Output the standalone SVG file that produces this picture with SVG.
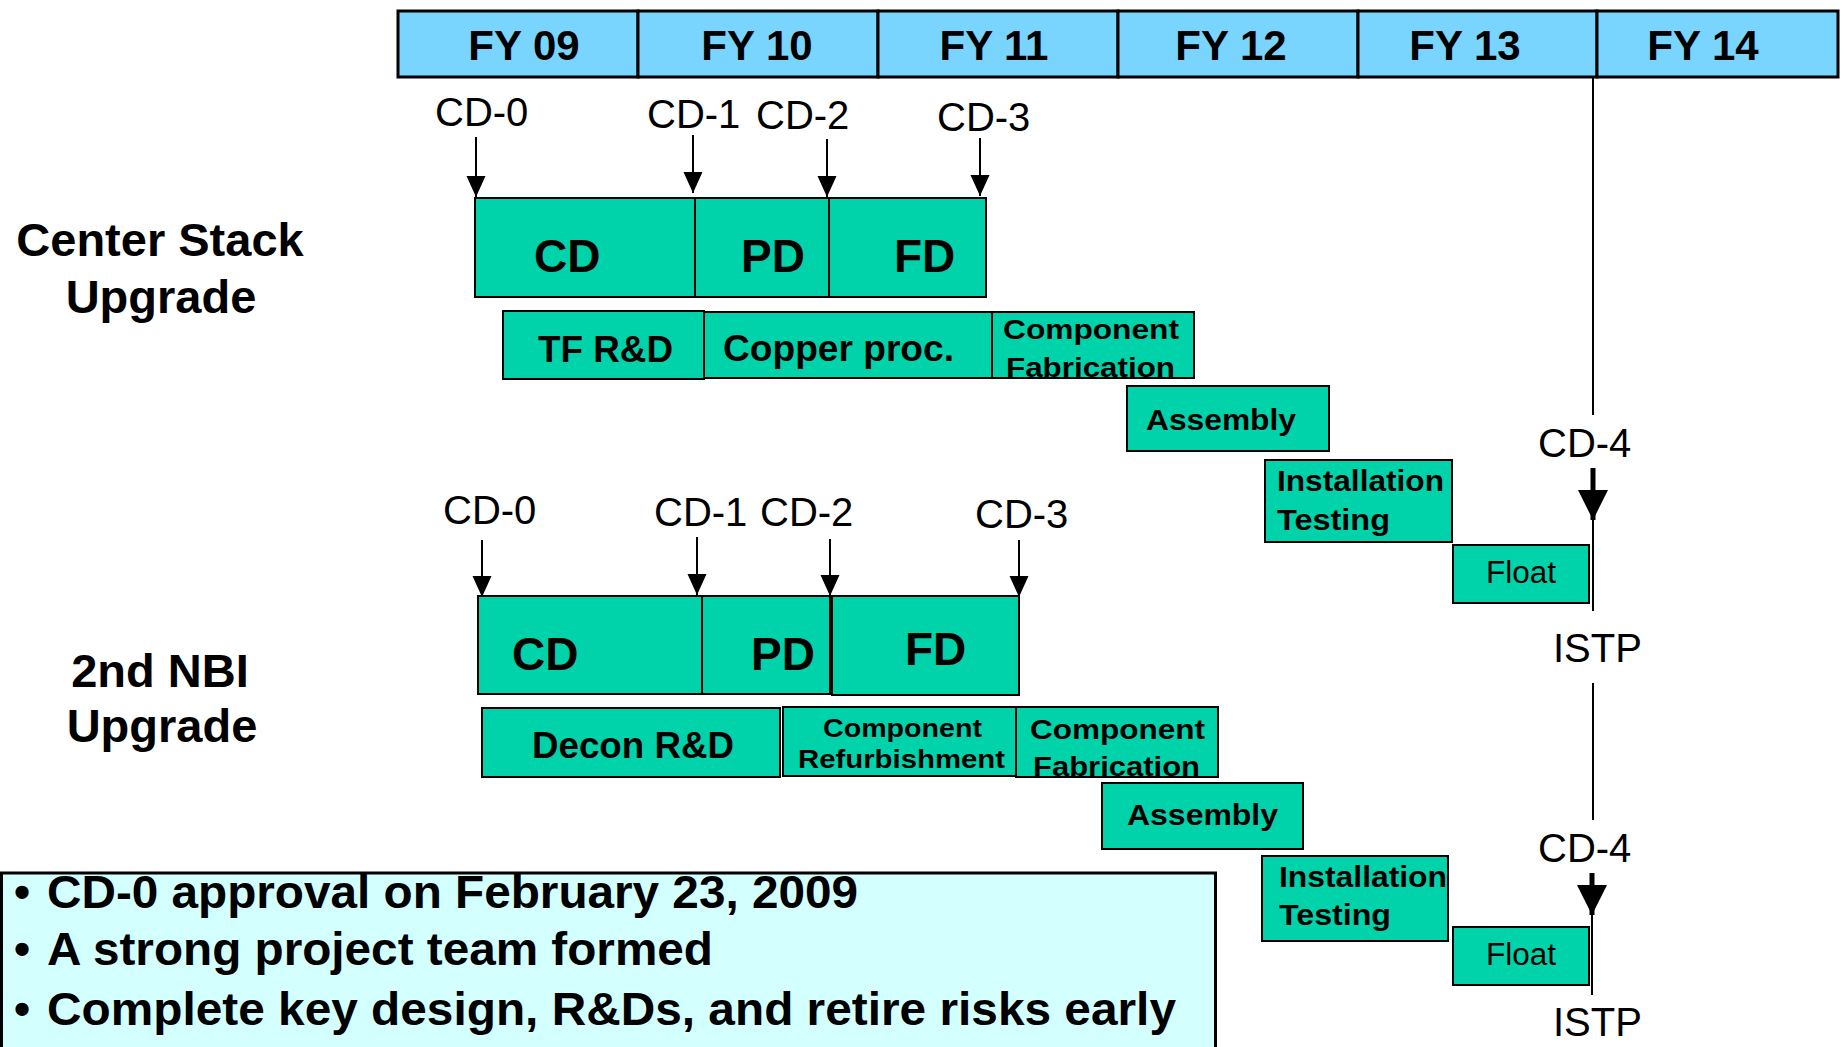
<svg xmlns="http://www.w3.org/2000/svg" width="1847" height="1047" viewBox="0 0 1847 1047">
<style>
  .hdr { fill: #79D4FE; stroke: #000; stroke-width: 3; }
  .hdrt { font-family: "Liberation Sans", Arial, sans-serif; font-weight: bold; font-size: 42px; fill: #000; text-anchor: middle; }
  .box { fill: #00D3AA; stroke: #000; stroke-width: 2; }
  .big { font-family: "Liberation Sans", Arial, sans-serif; font-weight: bold; font-size: 46px; fill: #000; }
  .lbl { font-family: "Liberation Sans", Arial, sans-serif; font-weight: bold; fill: #000; }
  .reg { font-family: "Liberation Sans", Arial, sans-serif; fill: #000; }
  .ms { font-family: "Liberation Sans", Arial, sans-serif; font-size: 40px; fill: #000; }
  .side { font-family: "Liberation Sans", Arial, sans-serif; font-weight: bold; font-size: 47px; fill: #000; text-anchor: middle; }
  .thin { stroke: #000; stroke-width: 2; fill: none; }
  .thick { stroke: #000; stroke-width: 5; fill: none; }
  .note { fill: #D4FFFF; stroke: #000; stroke-width: 3; }
  .nt { font-family: "Liberation Sans", Arial, sans-serif; font-weight: bold; font-size: 46px; fill: #000; }
</style>
<defs>
  <marker id="ah" markerUnits="userSpaceOnUse" markerWidth="22" markerHeight="20" refX="21" refY="10" orient="auto">
    <path d="M0,0.5 L21,10 L0,19.5 Z" fill="#000"/>
  </marker>
  <marker id="ahb" markerUnits="userSpaceOnUse" markerWidth="31" markerHeight="31" refX="30" refY="15" orient="auto">
    <path d="M0,0 L30,15 L0,30 Z" fill="#000"/>
  </marker>
  <clipPath id="c1"><rect x="992" y="312" width="202" height="66"/></clipPath>
  <clipPath id="c2"><rect x="1016" y="707" width="202" height="70"/></clipPath>
</defs>
<rect width="1847" height="1047" fill="#fff"/>

<g id="header">
  <rect class="hdr" x="398" y="11" width="240" height="66"/>
  <rect class="hdr" x="638" y="11" width="240" height="66"/>
  <rect class="hdr" x="878" y="11" width="240" height="66"/>
  <rect class="hdr" x="1118" y="11" width="240" height="66"/>
  <rect class="hdr" x="1358" y="11" width="239" height="66"/>
  <rect class="hdr" x="1597" y="11" width="241" height="66"/>
  <text class="hdrt" x="524" y="60">FY 09</text>
  <text class="hdrt" x="757" y="60">FY 10</text>
  <text class="hdrt" x="994" y="60">FY 11</text>
  <text class="hdrt" x="1231" y="60">FY 12</text>
  <text class="hdrt" x="1465" y="60">FY 13</text>
  <text class="hdrt" x="1703" y="60">FY 14</text>
</g>

<g id="side-labels">
  <text class="side" x="160" y="256">Center Stack</text>
  <text class="side" x="161" y="313">Upgrade</text>
  <text class="side" x="160" y="687">2nd NBI</text>
  <text class="side" x="162" y="742">Upgrade</text>
</g>

<g id="milestones">
  <text class="ms" x="435" y="126">CD-0</text>
  <text class="ms" x="647" y="128">CD-1</text>
  <text class="ms" x="756" y="129">CD-2</text>
  <text class="ms" x="937" y="131">CD-3</text>
  <text class="ms" x="443" y="524">CD-0</text>
  <text class="ms" x="654" y="526">CD-1</text>
  <text class="ms" x="760" y="526">CD-2</text>
  <text class="ms" x="975" y="528">CD-3</text>
  <text class="ms" x="1538" y="457">CD-4</text>
  <text class="ms" x="1553" y="662" font-size="42">ISTP</text>
  <text class="ms" x="1538" y="862">CD-4</text>
  <text class="ms" x="1553" y="1036" font-size="42">ISTP</text>
</g>

<g id="cs-cd"><rect class="box" x="475" y="198" width="220" height="99"/><text class="big" x="534" y="272">CD</text></g>
<g id="cs-pd"><rect class="box" x="695" y="198" width="134" height="99"/><text class="big" x="741" y="272">PD</text></g>
<g id="cs-fd"><rect class="box" x="829" y="198" width="157" height="99"/><text class="big" x="894" y="272">FD</text></g>

<g id="cs-tfrd"><rect class="box" x="503" y="311" width="201" height="68"/><text class="lbl" font-size="37" x="538" y="362" textLength="135" lengthAdjust="spacingAndGlyphs">TF R&amp;D</text></g>
<g id="cs-copper"><rect class="box" x="704" y="312" width="288" height="66"/><text class="lbl" font-size="37" x="723" y="361" textLength="231" lengthAdjust="spacingAndGlyphs">Copper proc.</text></g>
<g id="cs-compfab"><rect class="box" x="992" y="312" width="202" height="66"/>
  <g clip-path="url(#c1)">
    <text class="lbl" font-size="28" x="1003" y="339" textLength="176" lengthAdjust="spacingAndGlyphs">Component</text>
    <text class="lbl" font-size="28" x="1006" y="377" textLength="169" lengthAdjust="spacingAndGlyphs">Fabrication</text>
  </g>
</g>
<g id="cs-assembly"><rect class="box" x="1127" y="386" width="202" height="65"/><text class="lbl" font-size="30" x="1146" y="430" textLength="150" lengthAdjust="spacingAndGlyphs">Assembly</text></g>
<g id="cs-install"><rect class="box" x="1265" y="460" width="187" height="82"/>
  <text class="lbl" font-size="29" x="1277" y="491" textLength="167" lengthAdjust="spacingAndGlyphs">Installation</text>
  <text class="lbl" font-size="29" x="1277" y="530" textLength="113" lengthAdjust="spacingAndGlyphs">Testing</text>
</g>
<g id="cs-float"><rect class="box" x="1453" y="545" width="136" height="58"/><text class="reg" font-size="31" x="1486" y="583" textLength="70" lengthAdjust="spacingAndGlyphs">Float</text></g>

<g id="nbi-cd"><rect class="box" x="478" y="596" width="224" height="98"/><text class="big" x="512" y="670">CD</text></g>
<g id="nbi-pd"><rect class="box" x="702" y="596" width="128" height="98"/><text class="big" x="751" y="670">PD</text></g>
<g id="nbi-fd"><rect class="box" x="832" y="596" width="187" height="99"/><text class="big" x="905" y="665">FD</text></g>

<g id="nbi-decon"><rect class="box" x="482" y="708" width="298" height="69"/><text class="lbl" font-size="37" x="532" y="758" textLength="202" lengthAdjust="spacingAndGlyphs">Decon R&amp;D</text></g>
<g id="nbi-refurb"><rect class="box" x="783" y="707" width="233" height="69"/>
  <text class="lbl" font-size="25" x="823" y="737" textLength="159" lengthAdjust="spacingAndGlyphs">Component</text>
  <text class="lbl" font-size="25" x="798" y="768" textLength="207" lengthAdjust="spacingAndGlyphs">Refurbishment</text>
</g>
<g id="nbi-compfab"><rect class="box" x="1016" y="707" width="202" height="70"/>
  <g clip-path="url(#c2)">
    <text class="lbl" font-size="28" x="1030" y="739" textLength="175" lengthAdjust="spacingAndGlyphs">Component</text>
    <text class="lbl" font-size="28" x="1033" y="776" textLength="167" lengthAdjust="spacingAndGlyphs">Fabrication</text>
  </g>
</g>
<g id="nbi-assembly"><rect class="box" x="1102" y="783" width="201" height="66"/><text class="lbl" font-size="30" x="1127" y="825" textLength="151" lengthAdjust="spacingAndGlyphs">Assembly</text></g>
<g id="nbi-install"><rect class="box" x="1262" y="856" width="186" height="85"/>
  <text class="lbl" font-size="29" x="1279" y="887" textLength="168" lengthAdjust="spacingAndGlyphs">Installation</text>
  <text class="lbl" font-size="29" x="1279" y="925" textLength="112" lengthAdjust="spacingAndGlyphs">Testing</text>
</g>
<g id="nbi-float"><rect class="box" x="1453" y="927" width="136" height="58"/><text class="reg" font-size="31" x="1486" y="965" textLength="70" lengthAdjust="spacingAndGlyphs">Float</text></g>

<g id="notes">
  <rect class="note" x="1.5" y="873" width="1214" height="190"/>
  <text class="nt" x="14" y="908">•</text>
  <text class="nt" x="47" y="908" textLength="811" lengthAdjust="spacingAndGlyphs">CD-0 approval on February 23, 2009</text>
  <text class="nt" x="14" y="965">•</text>
  <text class="nt" x="47" y="965" textLength="666" lengthAdjust="spacingAndGlyphs">A strong project team formed</text>
  <text class="nt" x="14" y="1025">•</text>
  <text class="nt" x="47" y="1025" textLength="1129" lengthAdjust="spacingAndGlyphs">Complete key design, R&amp;Ds, and retire risks early</text>
</g>

<g id="connectors">
  <line class="thin" x1="476" y1="137" x2="476" y2="197" marker-end="url(#ah)"/>
  <line class="thin" x1="693" y1="135" x2="693" y2="193" marker-end="url(#ah)"/>
  <line class="thin" x1="827" y1="139" x2="827" y2="197" marker-end="url(#ah)"/>
  <line class="thin" x1="980" y1="138" x2="980" y2="196" marker-end="url(#ah)"/>
  <line class="thin" x1="482" y1="540" x2="482" y2="597" marker-end="url(#ah)"/>
  <line class="thin" x1="697" y1="537" x2="697" y2="595" marker-end="url(#ah)"/>
  <line class="thin" x1="830" y1="539" x2="830" y2="596" marker-end="url(#ah)"/>
  <line class="thin" x1="1019" y1="540" x2="1019" y2="597" marker-end="url(#ah)"/>
  <line class="thin" x1="1593" y1="77" x2="1593" y2="415"/>
  <line class="thick" x1="1593" y1="468" x2="1593" y2="520" marker-end="url(#ahb)"/>
  <line class="thin" x1="1593" y1="520" x2="1593" y2="611"/>
  <line class="thin" x1="1593" y1="683" x2="1593" y2="820"/>
  <line class="thick" x1="1592" y1="873" x2="1592" y2="915" marker-end="url(#ahb)"/>
  <line class="thin" x1="1592" y1="915" x2="1592" y2="995"/>
</g>
</svg>
